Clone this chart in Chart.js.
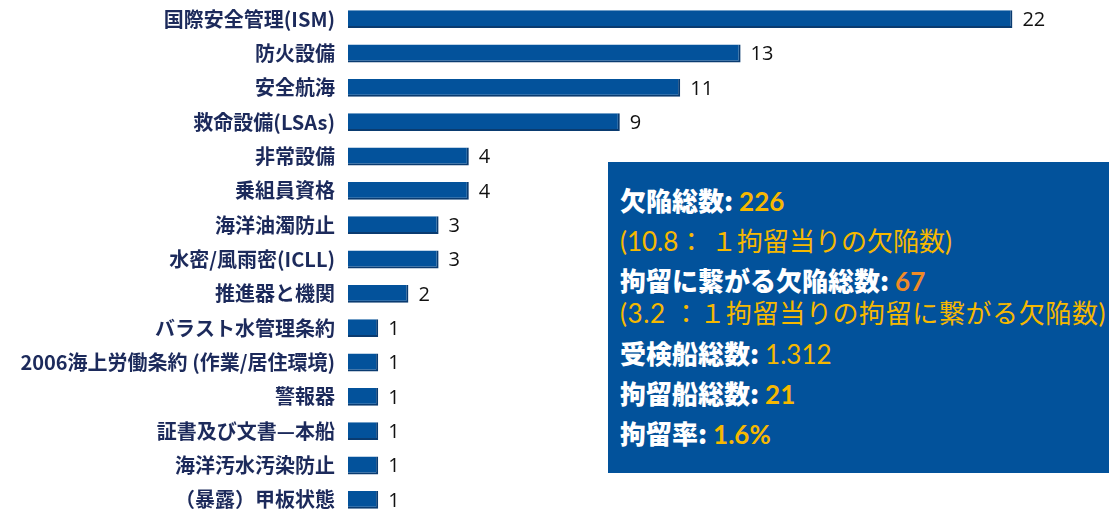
<!DOCTYPE html>
<html>
<head>
<meta charset="utf-8">
<script src="https://cdn.jsdelivr.net/npm/chart.js@4/dist/chart.umd.min.js"></script>
<style>
  html, body { margin: 0; padding: 0; background: #fff; overflow: hidden; }
  #wrap { position: relative; width: 1109px; height: 517px; }
  #box {
    position: absolute; left: 608px; top: 162px; width: 501px; height: 311px;
    background: #02529b; font-family: "Noto Sans CJK JP", sans-serif;
  }
  #box div { position: absolute; left: 12px; height: 32px; line-height: 32px; white-space: nowrap; font-size: 26px; }
  .w { color: #fff; font-weight: 900; }
  .y { color: #f6b800; }
  .o { color: #ef8a26; }
  .num { font-family: Lato, sans-serif; font-weight: 700; }
  .reg { font-family: Lato, "Noto Sans CJK JP", sans-serif; font-weight: 400; }
  .wide { letter-spacing: 0.6px; }
</style>
</head>
<body>
<div id="wrap">
  <canvas id="chart"></canvas>
  <div id="box"></div>
</div>
<script>
const categories = ['国際安全管理(ISM)', '防火設備', '安全航海', '救命設備(LSAs)', '非常設備', '乗組員資格',
  '海洋油濁防止', '水密/風雨密(ICLL)', '推進器と機関', 'バラスト水管理条約', '2006海上労働条約 (作業/居住環境)',
  '警報器', '証書及び文書—本船', '海洋汚水汚染防止', '（暴露）甲板状態'];
const counts = [22, 13, 11, 9, 4, 4, 3, 3, 2, 1, 1, 1, 1, 1, 1];

// 右側の集計ボックス
const summaryLabels = ['欠陥総数: ', '', '拘留に繋がる欠陥総数: ', '', '受検船総数: ', '拘留船総数: ', '拘留率: '];
const summaryValues = ['226', '(10.8： １拘留当りの欠陥数)', '67', '(3.2 ：１拘留当りの拘留に繋がる欠陥数)', '1.312', '21', '1.6%'];
const summaryTops = [22, 62, 102, 134, 175, 215, 255];

const box = document.getElementById('box');
summaryLabels.forEach((lab, i) => {
  const d = document.createElement('div');
  d.style.top = summaryTops[i] + 'px';
  let valCls = 'y num';
  if (i === 2) valCls = 'o num';
  if (i === 1 || i === 4) valCls = 'y reg';
  if (i === 3) valCls = 'y reg wide';
  d.innerHTML = (lab ? '<span class="w">' + lab + '</span>' : '') +
    '<span class="' + valCls + '">' + summaryValues[i] + '</span>';
  box.appendChild(d);
});

const valueLabels = {
  id: 'valueLabels',
  afterDatasetsDraw(chart) {
    const ctx = chart.ctx;
    const meta = chart.getDatasetMeta(0);
    ctx.save();
    ctx.font = '20px "Open Sans"';
    ctx.fillStyle = '#111';
    ctx.textAlign = 'left';
    ctx.textBaseline = 'middle';
    meta.data.forEach((bar, i) => {
      ctx.fillText(String(counts[i]), bar.x + 10, bar.y + 1);
    });
    ctx.restore();
  }
};

new Chart(document.getElementById('chart'), {
  type: 'bar',
  data: {
    labels: categories,
    datasets: [{
      data: counts,
      backgroundColor: '#03529b',
      borderColor: '#0a3b70',
      borderWidth: { top: 0, left: 0, right: 2, bottom: 2 },
      borderSkipped: 'left',
      barPercentage: 0.52,
      categoryPercentage: 1
    }]
  },
  options: {
    indexAxis: 'y',
    responsive: true,
    maintainAspectRatio: false,
    animation: false,
    layout: { padding: { top: 2, right: 6, left: 0, bottom: 0 } },
    plugins: { legend: { display: false }, tooltip: { enabled: false } },
    scales: {
      x: { display: false, min: 0, max: 25 },
      y: {
        grid: { display: false },
        border: { display: false },
        afterFit: (scale) => {
          scale.width = 348;
          scale.paddingTop = 0;
          scale.paddingBottom = 0;
        },
        ticks: {
          padding: 5,
          color: '#1c2a5b',
          font: { family: '"Noto Sans CJK JP"', size: 20, weight: 'bold' }
        }
      }
    }
  },
  plugins: [valueLabels]
});
</script>
</body>
</html>
